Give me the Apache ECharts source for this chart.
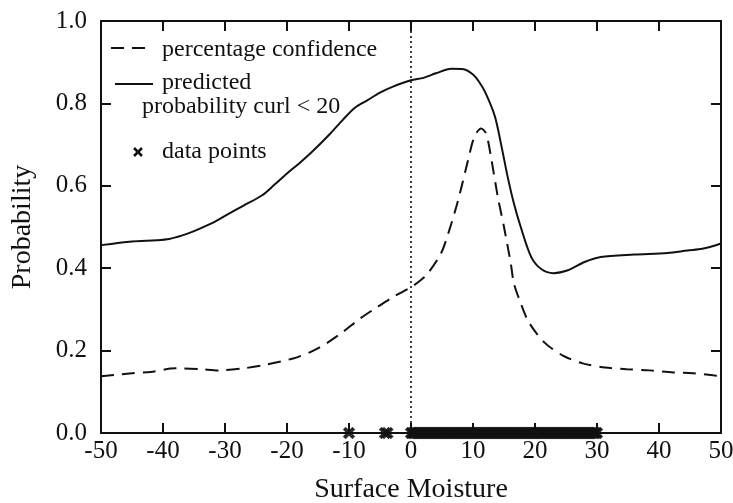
<!DOCTYPE html>
<html>
<head>
<meta charset="utf-8">
<script src="https://cdn.jsdelivr.net/npm/echarts@6/dist/echarts.min.js"></script>
<style>
html,body{margin:0;padding:0;background:#fff;}
#chart{width:733px;height:503px;}
</style>
</head>
<body>
<div id="chart"></div>
<script>
// ---- data ----
var xTicks = [-50, -40, -30, -20, -10, 0, 10, 20, 30, 40, 50];
var yTicks = [0.0, 0.2, 0.4, 0.6, 0.8, 1.0];

// predicted probability curl < 20 (solid)
var predMoisture = [-50, -45, -41, -39, -37, -35, -32, -30, -27, -24, -22, -20, -18, -16, -13, -11, -9, -7, -5, -3, 0, 2, 4, 6.5, 8.5, 10, 11, 12, 13.5, 14.5, 15.6, 16.6, 17.7, 19.4, 21, 23, 25.3, 28, 30.6, 36, 41.4, 44.6, 47, 50];
var predProb =     [0.456, 0.465, 0.468, 0.471, 0.479, 0.49, 0.51, 0.527, 0.552, 0.577, 0.603, 0.63, 0.655, 0.682, 0.727, 0.76, 0.79, 0.808, 0.826, 0.84, 0.856, 0.862, 0.873, 0.884, 0.883, 0.87, 0.852, 0.826, 0.77, 0.703, 0.621, 0.557, 0.5, 0.427, 0.398, 0.388, 0.395, 0.415, 0.427, 0.433, 0.437, 0.443, 0.447, 0.46];

// percentage confidence (dashed)
var confMoisture = [-50, -45, -42, -38, -34, -31, -27, -24, -19, -16, -13.6, -11, -8.2, -5.5, -2.9, 0, 1.5, 2.7, 4.8, 6, 7.6, 9.2, 10.2, 11.3, 12.1, 12.9, 14, 15, 16.1, 16.6, 17.7, 19, 21.5, 24.5, 27.7, 31.3, 34.8, 38.5, 42.3, 45.5, 48.7, 50];
var confProb =     [0.138, 0.145, 0.148, 0.157, 0.155, 0.152, 0.157, 0.164, 0.181, 0.198, 0.218, 0.245, 0.278, 0.305, 0.33, 0.354, 0.37, 0.387, 0.435, 0.484, 0.565, 0.662, 0.718, 0.739, 0.727, 0.67, 0.573, 0.5, 0.411, 0.363, 0.315, 0.269, 0.22, 0.188, 0.169, 0.159, 0.155, 0.152, 0.147, 0.145, 0.14, 0.138];

// data points (on the zero line)
var pointMoisture = [-10, -4.2, -3.8,
  0, 0.25, 0.5, 0.75, 1, 1.25, 1.5, 1.75, 2, 2.25, 2.5, 2.75, 3, 3.25, 3.5, 3.75, 4, 4.25, 4.5, 4.75,
  5, 5.25, 5.5, 5.75, 6, 6.25, 6.5, 6.75, 7, 7.25, 7.5, 7.75, 8, 8.25, 8.5, 8.75, 9, 9.25, 9.5, 9.75,
  10, 10.25, 10.5, 10.75, 11, 11.25, 11.5, 11.75, 12, 12.25, 12.5, 12.75, 13, 13.25, 13.5, 13.75, 14, 14.25, 14.5, 14.75,
  15, 15.25, 15.5, 15.75, 16, 16.25, 16.5, 16.75, 17, 17.25, 17.5, 17.75, 18, 18.25, 18.5, 18.75, 19, 19.25, 19.5, 19.75,
  20, 20.25, 20.5, 20.75, 21, 21.25, 21.5, 21.75, 22, 22.25, 22.5, 22.75, 23, 23.25, 23.5, 23.75, 24, 24.25, 24.5, 24.75,
  25, 25.25, 25.5, 25.75, 26, 26.25, 26.5, 26.75, 27, 27.25, 27.5, 27.75, 28, 28.25, 28.5, 28.75, 29, 29.25, 29.5, 29.75, 30];
var pointProb = pointMoisture.map(function(){ return 0; });

var zeroLineX = [0, 0];
var zeroLineY = [0, 1];

function zip(a, b){ return a.map(function(v, i){ return [v, b[i]]; }); }

var FONT = 'Liberation Serif';
var INK = '#111';
var xMark = 'path://M4,0H6V4H10V6H6V10H4V6H0V4H4Z';
var LFONT = '24px "Liberation Serif"';

var chart = echarts.init(document.getElementById('chart'), null, {renderer: 'canvas'});
function axisCommon(extra){
  return Object.assign({
    axisLine: {show: true, onZero: false, lineStyle: {color: INK, width: 2}},
    axisTick: {show: true, inside: true, length: 10, lineStyle: {color: INK, width: 2}},
    splitLine: {show: false}
  }, extra);
}
chart.setOption({
  animation: false,
  backgroundColor: '#fff',
  grid: {left: 101, right: 12, top: 21, bottom: 70, containLabel: false, outerBoundsMode: 'none'},
  xAxis: [
    axisCommon({
      type: 'value', min: -50, max: 50, interval: 10, position: 'bottom',
      name: 'Surface Moisture', nameLocation: 'middle', nameGap: 43,
      nameTextStyle: {fontFamily: FONT, fontSize: 28, color: INK},
      axisLabel: {margin: 6, fontFamily: FONT, fontSize: 25, color: INK,
        formatter: function(v){ return xTicks.indexOf(v) >= 0 ? String(v) : ''; }}
    }),
    axisCommon({
      type: 'value', min: -50, max: 50, interval: 10, position: 'top',
      axisLabel: {show: false}
    })
  ],
  yAxis: [
    axisCommon({
      type: 'value', min: 0, max: 1, interval: 0.2, position: 'left',
      name: 'Probability', nameLocation: 'middle', nameGap: 64, nameRotate: 90,
      nameTextStyle: {fontFamily: FONT, fontSize: 28, color: INK},
      axisLabel: {margin: 14, fontFamily: FONT, fontSize: 25, color: INK,
        formatter: function(v){ return v.toFixed(1); }}
    }),
    axisCommon({
      type: 'value', min: 0, max: 1, interval: 0.2, position: 'right',
      axisLabel: {show: false}
    })
  ],
  series: [
    {
      type: 'line', name: 'zero', data: zip(zeroLineX, zeroLineY), showSymbol: false, symbol: 'none',
      lineStyle: {color: INK, width: 1.6, type: [2, 3]}, z: 1
    },
    {
      type: 'line', name: 'percentage confidence', data: zip(confMoisture, confProb),
      showSymbol: false, symbol: 'none', smooth: 0.3,
      lineStyle: {color: INK, width: 2, type: [13, 8]}, z: 2
    },
    {
      type: 'line', name: 'predicted probability curl < 20', data: zip(predMoisture, predProb),
      showSymbol: false, symbol: 'none', smooth: 0.3,
      lineStyle: {color: INK, width: 2}, z: 3
    },
    {
      type: 'scatter', name: 'data points', data: zip(pointMoisture, pointProb),
      symbol: xMark, symbolSize: 12, symbolRotate: 45,
      itemStyle: {color: INK, borderColor: INK, borderWidth: 1.6}, z: 4
    }
  ],
  graphic: [
    {type: 'line', shape: {x1: 111, y1: 48, x2: 148, y2: 48}, style: {stroke: INK, lineWidth: 2, lineDash: [13, 8]}},
    {type: 'text', x: 162, y: 50, style: {text: 'percentage confidence', font: LFONT, fill: INK, verticalAlign: 'middle'}},
    {type: 'line', shape: {x1: 115, y1: 84, x2: 153, y2: 84}, style: {stroke: INK, lineWidth: 2}},
    {type: 'text', x: 162, y: 83, style: {text: 'predicted', font: LFONT, fill: INK, verticalAlign: 'middle'}},
    {type: 'text', x: 142, y: 107, style: {text: 'probability curl < 20', font: LFONT, fill: INK, verticalAlign: 'middle'}},
    {type: 'line', shape: {x1: 134, y1: 148, x2: 142, y2: 156}, style: {stroke: INK, lineWidth: 2.5}},
    {type: 'line', shape: {x1: 142, y1: 148, x2: 134, y2: 156}, style: {stroke: INK, lineWidth: 2.5}},
    {type: 'text', x: 162, y: 152, style: {text: 'data points', font: LFONT, fill: INK, verticalAlign: 'middle'}}
  ]
});
</script>
</body>
</html>
